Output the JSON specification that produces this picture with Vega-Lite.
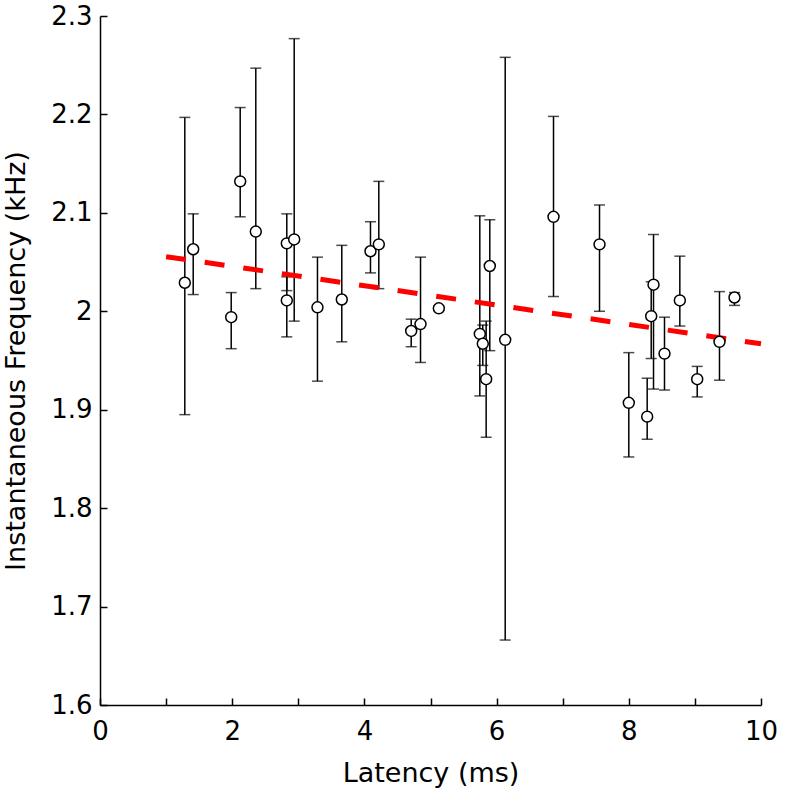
{
  "$schema": "https://vega.github.io/schema/vega-lite/v6.json",
  "autosize": {"type": "none"},
  "padding": {"left": 100, "top": 16, "right": 25, "bottom": 85},
  "width": 661,
  "height": 689,
  "background": "white",
  "config": {
    "view": {"stroke": null},
    "font": "DejaVu Sans",
    "axis": {
      "grid": false,
      "domainColor": "black",
      "domainWidth": 1.5,
      "tickColor": "black",
      "tickWidth": 1.5,
      "tickSize": -7,
      "labelFlush": false,
      "labelColor": "black",
      "labelFont": "DejaVu Sans",
      "labelFontSize": 26,
      "titleFont": "DejaVu Sans",
      "titleFontSize": 27,
      "titleFontWeight": "normal",
      "titleColor": "black"
    }
  },
  "datasets": {
    "pts": [
      {"lat": 1.283, "f": 2.029, "lo": 1.895, "hi": 2.197},
      {"lat": 1.410, "f": 2.063, "lo": 2.017, "hi": 2.099},
      {"lat": 1.985, "f": 1.994, "lo": 1.962, "hi": 2.019},
      {"lat": 2.121, "f": 2.132, "lo": 2.096, "hi": 2.207},
      {"lat": 2.357, "f": 2.081, "lo": 2.023, "hi": 2.247},
      {"lat": 2.826, "f": 2.069, "lo": 2.021, "hi": 2.099},
      {"lat": 2.826, "f": 2.011, "lo": 1.974, "hi": 2.035},
      {"lat": 2.938, "f": 2.073, "lo": 1.990, "hi": 2.277},
      {"lat": 3.290, "f": 2.004, "lo": 1.929, "hi": 2.055},
      {"lat": 3.658, "f": 2.012, "lo": 1.969, "hi": 2.067},
      {"lat": 4.092, "f": 2.061, "lo": 2.039, "hi": 2.091},
      {"lat": 4.218, "f": 2.068, "lo": 2.023, "hi": 2.132},
      {"lat": 4.708, "f": 1.980, "lo": 1.964, "hi": 1.992},
      {"lat": 4.849, "f": 1.987, "lo": 1.948, "hi": 2.055},
      {"lat": 5.126, "f": 2.003, "lo": 2.001, "hi": 2.005},
      {"lat": 5.746, "f": 1.977, "lo": 1.914, "hi": 2.097},
      {"lat": 5.791, "f": 1.967, "lo": 1.945, "hi": 1.986},
      {"lat": 5.842, "f": 1.931, "lo": 1.872, "hi": 1.990},
      {"lat": 5.897, "f": 2.046, "lo": 1.960, "hi": 2.093},
      {"lat": 6.130, "f": 1.971, "lo": 1.666, "hi": 2.258},
      {"lat": 6.861, "f": 2.096, "lo": 2.015, "hi": 2.198},
      {"lat": 7.557, "f": 2.068, "lo": 2.000, "hi": 2.108},
      {"lat": 8.000, "f": 1.907, "lo": 1.852, "hi": 1.958},
      {"lat": 8.278, "f": 1.893, "lo": 1.870, "hi": 1.932},
      {"lat": 8.339, "f": 1.995, "lo": 1.952, "hi": 2.030},
      {"lat": 8.374, "f": 2.027, "lo": 1.921, "hi": 2.078},
      {"lat": 8.540, "f": 1.957, "lo": 1.920, "hi": 1.994},
      {"lat": 8.772, "f": 2.011, "lo": 1.985, "hi": 2.056},
      {"lat": 9.035, "f": 1.931, "lo": 1.913, "hi": 1.944},
      {"lat": 9.372, "f": 1.969, "lo": 1.930, "hi": 2.020},
      {"lat": 9.599, "f": 2.014, "lo": 2.006, "hi": 2.019}
    ],
    "fit": [
      {"lat": 1, "f": 2.0555},
      {"lat": 10, "f": 1.967}
    ]
  },
  "layer": [
    {
      "data": {"name": "pts"},
      "mark": {"type": "rule", "color": "black", "strokeWidth": 1.5},
      "encoding": {
        "x": {
          "field": "lat", "type": "quantitative",
          "scale": {"domain": [0, 10], "nice": false, "zero": false},
          "axis": {
            "title": "Latency (ms)",
            "values": [0, 1, 2, 3, 4, 5, 6, 7, 8, 9, 10],
            "labelExpr": "datum.value % 2 == 0 ? format(datum.value, 'd') : ''",
            "labelPadding": 20,
            "titlePadding": 16
          }
        },
        "y": {
          "field": "lo", "type": "quantitative",
          "scale": {"domain": [1.6, 2.3], "nice": false, "zero": false},
          "axis": {
            "title": "Instantaneous Frequency (kHz)",
            "values": [1.6, 1.7, 1.8, 1.9, 2.0, 2.1, 2.2, 2.3],
            "labelExpr": "datum.value == 2 ? '2' : format(datum.value, '.1f')",
            "labelPadding": 15,
            "titlePadding": 20
          }
        },
        "y2": {"field": "hi"}
      }
    },
    {
      "data": {"name": "pts"},
      "mark": {"type": "tick", "orient": "horizontal", "color": "black", "thickness": 1.5, "size": 11},
      "encoding": {
        "x": {"field": "lat", "type": "quantitative"},
        "y": {"field": "lo", "type": "quantitative"}
      }
    },
    {
      "data": {"name": "pts"},
      "mark": {"type": "tick", "orient": "horizontal", "color": "black", "thickness": 1.5, "size": 11},
      "encoding": {
        "x": {"field": "lat", "type": "quantitative"},
        "y": {"field": "hi", "type": "quantitative"}
      }
    },
    {
      "data": {"name": "fit"},
      "mark": {"type": "line", "color": "#ff0000", "strokeWidth": 5, "strokeDash": [20, 19], "strokeCap": "butt"},
      "encoding": {
        "x": {"field": "lat", "type": "quantitative"},
        "y": {"field": "f", "type": "quantitative"}
      }
    },
    {
      "data": {"name": "pts"},
      "mark": {"type": "point", "shape": "circle", "filled": true, "fill": "white", "stroke": "black", "strokeWidth": 1.5, "size": 120, "opacity": 1},
      "encoding": {
        "x": {"field": "lat", "type": "quantitative"},
        "y": {"field": "f", "type": "quantitative"}
      }
    }
  ]
}
